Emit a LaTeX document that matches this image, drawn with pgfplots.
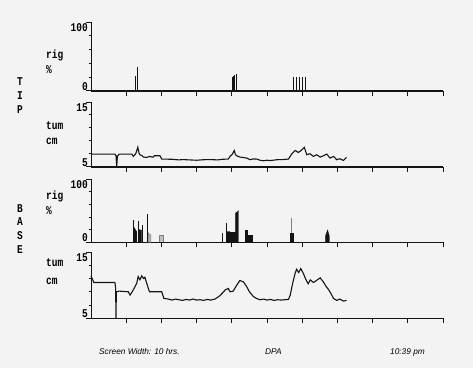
\documentclass[border=0pt]{standalone}
\usepackage{graphicx}
\usepackage{pgfplots}
\pgfplotsset{compat=1.18}
\usepackage{fontspec}
\setmainfont{Liberation Sans}
\setmonofont{Liberation Mono}
\definecolor{bg}{RGB}{243,243,243}
\definecolor{ink}{RGB}{20,20,20}
\newcommand{\dm}[1]{\scalebox{1}[1.25]{\fontsize{9.5bp}{11bp}\ttfamily\bfseries #1}}
\pgfplotsset{
  panel/.style={
    scale only axis, width=352bp, xmin=0, xmax=10, clip=false,
    axis x line=bottom, axis y line=left,
    axis line style={-, ink},
    x axis line style={line width=1.6bp},
    y axis line style={line width=0.9bp},
    xtick={1,2,3,4,5,6,7,8,9,10}, xticklabels={},
    yticklabels={},
    tick align=outside,
    major tick length=5bp, minor tick length=2.5bp,
    every tick/.style={ink, line width=0.9bp},
    every minor tick/.style={ink, line width=0.9bp},
  }
}
\begin{document}
\begin{tikzpicture}
\path[use as bounding box, fill=bg] (0,0) rectangle (473bp,-368bp);

% ---------- TIP rig ----------
\begin{axis}[panel, at={(91bp,-90.7bp)}, anchor=south west, height=68.7bp,
  ymin=0, ymax=100, ytick={0,100}, minor ytick={20,40,60,80}]
\addplot[ycomb, ink, line width=0.8bp] coordinates {
(1.25,21)(1.31,34)
(4.02,19.5)(4.05,21)(4.08,23)(4.12,25)
(5.75,19.5)(5.83,19.5)(5.91,19.5)(6.00,19.5)(6.10,19.5)};
\end{axis}

% ---------- TIP tum ----------
\begin{axis}[panel, at={(91bp,-166.7bp)}, anchor=south west, height=64.7bp,
  ymin=5, ymax=15, ytick={5,15}, minor ytick={7,9,11,13}]
\addplot[ink, line width=1.1bp] coordinates {
(0,6.95)(0.68,6.95)(0.71,6.7)(0.73,5.0)(0.75,6.6)(0.80,6.95)(1.16,6.95)(1.20,6.6)
(1.27,7.0)(1.33,8.0)(1.36,7.2)(1.39,6.85)(1.45,6.7)(1.49,6.5)(1.55,6.45)(1.58,6.44)
(1.68,6.6)(1.72,6.5)(1.77,6.49)(1.80,6.69)(1.96,6.69)(2.01,6.18)(2.3,6.15)(2.5,6.05)
(2.6,6.1)(2.8,6.05)(3.0,6.0)(3.2,6.08)(3.4,6.1)(3.6,6.05)(3.75,6.15)(3.90,6.18)
(3.95,6.6)(4.01,6.9)(4.07,7.5)(4.10,6.9)(4.14,6.69)(4.23,6.49)(4.42,6.34)(4.52,6.08)
(4.6,6.2)(4.71,6.18)(4.8,6.0)(4.90,5.92)(5.0,6.0)(5.1,5.95)(5.28,6.08)(5.45,6.1)
(5.61,6.18)(5.70,6.95)(5.80,7.51)(5.89,7.2)(5.97,7.51)(6.06,8.0)(6.13,6.85)(6.22,7.0)
(6.32,6.59)(6.41,6.85)(6.51,6.49)(6.60,6.69)(6.70,6.95)(6.79,6.34)(6.89,6.59)
(6.98,6.08)(7.07,6.23)(7.17,5.97)(7.26,6.44)};
\end{axis}

% ---------- BASE rig ----------
\begin{axis}[panel, at={(91bp,-242.3bp)}, anchor=south west, height=63.3bp,
  ymin=0, ymax=100, ytick={0,100}, minor ytick={20,40,60,80}]
\addplot[ycomb, ink, line width=0.8bp] coordinates {
(1.20,36)(1.35,34)(1.46,28)(1.60,45)(3.74,14)(3.85,31)};
\addplot[ycomb, gray, line width=0.8bp] coordinates {(5.69,38)};
\addplot[fill=ink, draw=ink, line width=0.3bp] coordinates {
(1.22,0)(1.22,24)(1.26,20)(1.30,17)(1.30,0)};
\addplot[fill=ink, draw=ink, line width=0.3bp] coordinates {
(1.37,0)(1.37,20)(1.44,19)(1.44,0)};
\addplot[fill=gray!60, draw=gray, line width=0.5bp] coordinates {
(1.63,0)(1.63,15)(1.66,12)(1.70,12)(1.70,0)};
\addplot[fill=gray!50, draw=gray, line width=0.5bp] coordinates {
(1.94,0)(1.94,11)(2.04,11)(2.04,0)};
\addplot[fill=ink, draw=ink, line width=0.3bp] coordinates {
(3.86,0)(3.86,17)(3.95,17)(3.95,16)(4.10,16)(4.10,46)(4.15,48)(4.19,50)(4.19,0)};
\addplot[fill=ink, draw=ink, line width=0.3bp] coordinates {
(4.39,0)(4.39,19)(4.44,19)(4.44,11)(4.57,11)(4.57,0)};
\addplot[fill=ink, draw=ink, line width=0.3bp] coordinates {
(5.66,0)(5.66,14)(5.73,14)(5.73,0)};
\addplot[fill=ink, draw=ink, line width=0.3bp] coordinates {
(6.66,0)(6.66,10)(6.70,16)(6.72,19.5)(6.74,16)(6.77,10)(6.77,0)};
\end{axis}

% ---------- BASE tum ----------
\begin{axis}[panel, at={(91bp,-318.3bp)}, anchor=south west, height=66.3bp,
  ymin=5, ymax=15, ytick={5,15}, minor ytick={7,9,11,13}]
\addplot[ink, line width=1.1bp] coordinates {
(0,11.4)(0.08,10.4)(0.68,10.4)(0.70,9.5)(0.71,5.0)(0.72,9.0)(0.80,9.1)(1.06,9.0)
(1.11,8.5)(1.20,9.27)(1.30,10.3)(1.34,11.3)(1.39,10.8)(1.44,11.4)(1.49,11.0)(1.53,11.2)
(1.60,10.0)(1.66,9.0)(2.01,9.0)(2.07,8.0)(2.2,7.9)(2.3,7.75)(2.4,7.9)(2.5,7.8)(2.6,7.7)
(2.7,7.85)(2.8,7.75)(2.9,7.9)(3.0,7.75)(3.1,7.8)(3.2,7.7)(3.3,7.85)(3.4,7.75)(3.52,7.9)
(3.66,8.4)(3.75,8.9)(3.81,9.27)(3.90,9.5)(3.95,9.0)(4.04,9.1)(4.14,10.0)(4.23,10.7)
(4.33,10.5)(4.42,9.8)(4.50,9.0)(4.61,8.3)(4.70,8.0)(4.8,7.8)(4.9,7.9)(5.0,7.75)(5.1,7.85)
(5.2,7.7)(5.3,7.8)(5.4,7.75)(5.5,7.8)(5.61,7.85)(5.66,8.5)(5.73,10.3)(5.80,11.8)
(5.84,12.4)(5.90,11.9)(5.96,12.5)(6.03,11.8)(6.10,10.9)(6.17,10.2)(6.23,10.8)(6.32,10.4)
(6.43,10.8)(6.51,11.1)(6.60,10.5)(6.68,9.8)(6.74,9.4)(6.81,8.8)(6.89,8.0)(6.98,7.7)
(7.07,7.9)(7.17,7.6)(7.26,7.7)};
\end{axis}

% ---------- y range labels ----------
\node[anchor=north east, inner sep=0pt] at (88bp,-23bp) {\dm{100}};
\node[anchor=south east, inner sep=0pt] at (88bp,-90.7bp) {\dm{0}};
\node[anchor=north east, inner sep=0pt] at (88bp,-103bp) {\dm{15}};
\node[anchor=south east, inner sep=0pt] at (88bp,-166.7bp) {\dm{5}};
\node[anchor=north east, inner sep=0pt] at (88bp,-180bp) {\dm{100}};
\node[anchor=south east, inner sep=0pt] at (88bp,-242.3bp) {\dm{0}};
\node[anchor=north east, inner sep=0pt] at (88bp,-253bp) {\dm{15}};
\node[anchor=south east, inner sep=0pt] at (88bp,-318.3bp) {\dm{5}};

% ---------- channel labels ----------
\node[anchor=west, inner sep=0pt] at (46bp,-55bp) {\dm{rig}};
\node[anchor=west, inner sep=0pt] at (46bp,-70bp) {\dm{\%}};
\node[anchor=west, inner sep=0pt] at (46bp,-126bp) {\dm{tum}};
\node[anchor=west, inner sep=0pt] at (46bp,-141bp) {\dm{cm}};
\node[anchor=west, inner sep=0pt] at (46bp,-196bp) {\dm{rig}};
\node[anchor=west, inner sep=0pt] at (46bp,-211bp) {\dm{\%}};
\node[anchor=west, inner sep=0pt] at (46bp,-263bp) {\dm{tum}};
\node[anchor=west, inner sep=0pt] at (46bp,-281bp) {\dm{cm}};

\node[inner sep=0pt] at (20bp,-82bp) {\dm{T}};
\node[inner sep=0pt] at (20bp,-96bp) {\dm{I}};
\node[inner sep=0pt] at (20bp,-110bp) {\dm{P}};
\node[inner sep=0pt] at (20bp,-209bp) {\dm{B}};
\node[inner sep=0pt] at (20bp,-222bp) {\dm{A}};
\node[inner sep=0pt] at (20bp,-236bp) {\dm{S}};
\node[inner sep=0pt] at (20bp,-250bp) {\dm{E}};

% ---------- footer ----------
\node[anchor=west, inner sep=0pt, font=\fontsize{8.3bp}{10bp}\selectfont\itshape] at (99bp,-352bp) {Screen Width: 10 hrs.};
\node[anchor=west, inner sep=0pt, font=\fontsize{8.3bp}{10bp}\selectfont\itshape] at (265bp,-352bp) {DPA};
\node[anchor=west, inner sep=0pt, font=\fontsize{8.3bp}{10bp}\selectfont\itshape] at (390bp,-352bp) {10:39 pm};
\end{tikzpicture}
\end{document}
